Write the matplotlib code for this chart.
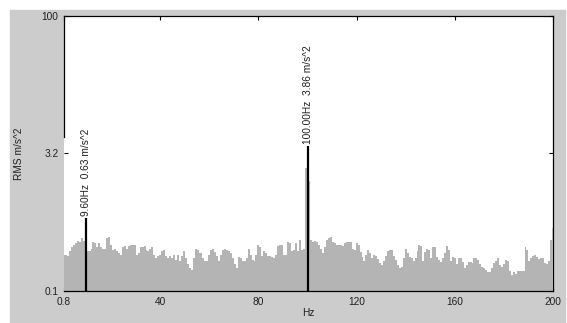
import numpy as np
import matplotlib
matplotlib.use("Agg")
import matplotlib.pyplot as plt
from matplotlib.patches import Rectangle
from matplotlib.ticker import NullLocator

plt.rcParams['font.family'] = ['Liberation Sans', 'DejaVu Sans']

# spectrum bins: 0.8 Hz resolution, 0.8 .. 200 Hz
freqs = np.arange(1, 251) * 0.8
rms = [
    0.25, 0.245, 0.24, 0.27, 0.30, 0.32, 0.33, 0.35, 0.34, 0.375, 0.35,
    0.63,
    0.27, 0.27, 0.285, 0.34, 0.33, 0.30, 0.33, 0.30, 0.29, 0.285,
    0.375, 0.39, 0.32, 0.28, 0.285, 0.27, 0.26, 0.25, 0.30, 0.31,
    0.29, 0.31, 0.32, 0.32, 0.32, 0.245, 0.26, 0.30, 0.30, 0.31,
    0.28, 0.27, 0.29, 0.30, 0.25, 0.23, 0.24, 0.245, 0.27, 0.28,
    0.24, 0.23, 0.24, 0.23, 0.25, 0.22, 0.25, 0.21, 0.24, 0.27,
    0.23, 0.195, 0.18, 0.17, 0.23, 0.29, 0.28, 0.26, 0.26, 0.23,
    0.21, 0.21, 0.245, 0.28, 0.285, 0.265, 0.24, 0.21, 0.25, 0.28,
    0.285, 0.28,
    0.27, 0.26, 0.23, 0.195, 0.18, 0.235, 0.23, 0.21, 0.21, 0.23,
    0.285, 0.25, 0.22, 0.21, 0.245, 0.32, 0.30, 0.24, 0.27, 0.26,
    0.24, 0.24, 0.235, 0.23, 0.245, 0.31, 0.32, 0.32, 0.25, 0.25,
    0.34, 0.33, 0.27, 0.28, 0.33, 0.27, 0.36, 0.28, 0.29,
    2.2, 3.86, 1.6,
    0.36, 0.345, 0.35, 0.345, 0.32, 0.285, 0.26, 0.30, 0.36, 0.375,
    0.39, 0.345, 0.33, 0.32, 0.32, 0.32, 0.31, 0.33, 0.34, 0.345,
    0.34, 0.29, 0.28, 0.33, 0.32, 0.265, 0.235, 0.21, 0.25, 0.28,
    0.26, 0.23, 0.25, 0.24, 0.225, 0.20, 0.19, 0.21, 0.24, 0.27,
    0.28,
    0.28, 0.24, 0.22, 0.19, 0.18, 0.185, 0.23, 0.285, 0.26, 0.235,
    0.23, 0.21, 0.23, 0.27, 0.32, 0.31, 0.21, 0.265, 0.29, 0.28,
    0.23, 0.30, 0.30, 0.235, 0.22, 0.205, 0.23, 0.26, 0.31, 0.28,
    0.21, 0.235, 0.23, 0.195, 0.23, 0.23, 0.205, 0.18, 0.19, 0.205,
    0.205, 0.20,
    0.23, 0.23, 0.22, 0.195, 0.185, 0.18, 0.17, 0.16, 0.16, 0.18,
    0.20, 0.21, 0.23, 0.19, 0.185, 0.195, 0.22, 0.21, 0.165, 0.15,
    0.16, 0.155, 0.165, 0.165, 0.165, 0.165, 0.30, 0.28, 0.21, 0.23,
    0.24, 0.25, 0.235, 0.225, 0.23, 0.23, 0.20, 0.195, 0.21, 0.36,
    0.49,
]

peak_freqs = [9.6, 100.0]
peak_vals = [0.63, 3.86]

xticks = [0.8, 40, 80, 120, 160, 200]
xticklabels = ['0.8', '40', '80', '120', '160', '200']
yticks = [0.1, 3.2, 100]
yticklabels = ['0.1', '3.2', '100']

fs = 7.3

fig = plt.figure(figsize=(5.67, 3.23), dpi=100, facecolor='white')
fig.patches.append(Rectangle((10 / 567, 0), 555 / 567, 313 / 323,
                             transform=fig.transFigure, color='#cccccc', zorder=-5))

ax = fig.add_axes([64 / 567, 32 / 323, 489 / 567, 275 / 323])
ax.set_facecolor('white')
ax.set_yscale('log')
ax.set_xlim(0.8, 200)
ax.set_ylim(0.1, 100)

ax.fill_between(freqs, 0.1, rms, step='mid', color='#b4b4b4', lw=0, zorder=2.6)
ax.vlines(peak_freqs, 0.1, peak_vals, colors='black', lw=1.6, zorder=4)
for f, v in zip(peak_freqs, peak_vals):
    ax.text(f, v * 1.05, f'{f:.2f}Hz  {v:.2f} m/s^2', rotation=90,
            ha='center', va='bottom', fontsize=fs, color='#202020')

ax.set_xticks(xticks)
ax.set_xticklabels(xticklabels)
ax.set_yticks(yticks)
ax.set_yticklabels(yticklabels)
ax.yaxis.set_minor_locator(NullLocator())
ax.xaxis.set_minor_locator(NullLocator())
ax.tick_params(direction='in', length=3, width=0.8, top=True, right=True,
               labelsize=fs, pad=4, labelcolor='#202020')

for s in ax.spines.values():
    s.set_linewidth(0.9)
    s.set_color('black')
ax.spines['bottom'].set_zorder(3)
ax.spines['left'].set_bounds(4.8, 100)

ax.set_xlabel('Hz', fontsize=fs, color='#202020')
ax.xaxis.set_label_coords(0.5, -0.062)
ax.set_ylabel('RMS m/s^2', fontsize=fs, color='#202020')
ax.yaxis.set_label_coords(-0.082, 0.5)

fig.savefig('out.png', dpi=100)
